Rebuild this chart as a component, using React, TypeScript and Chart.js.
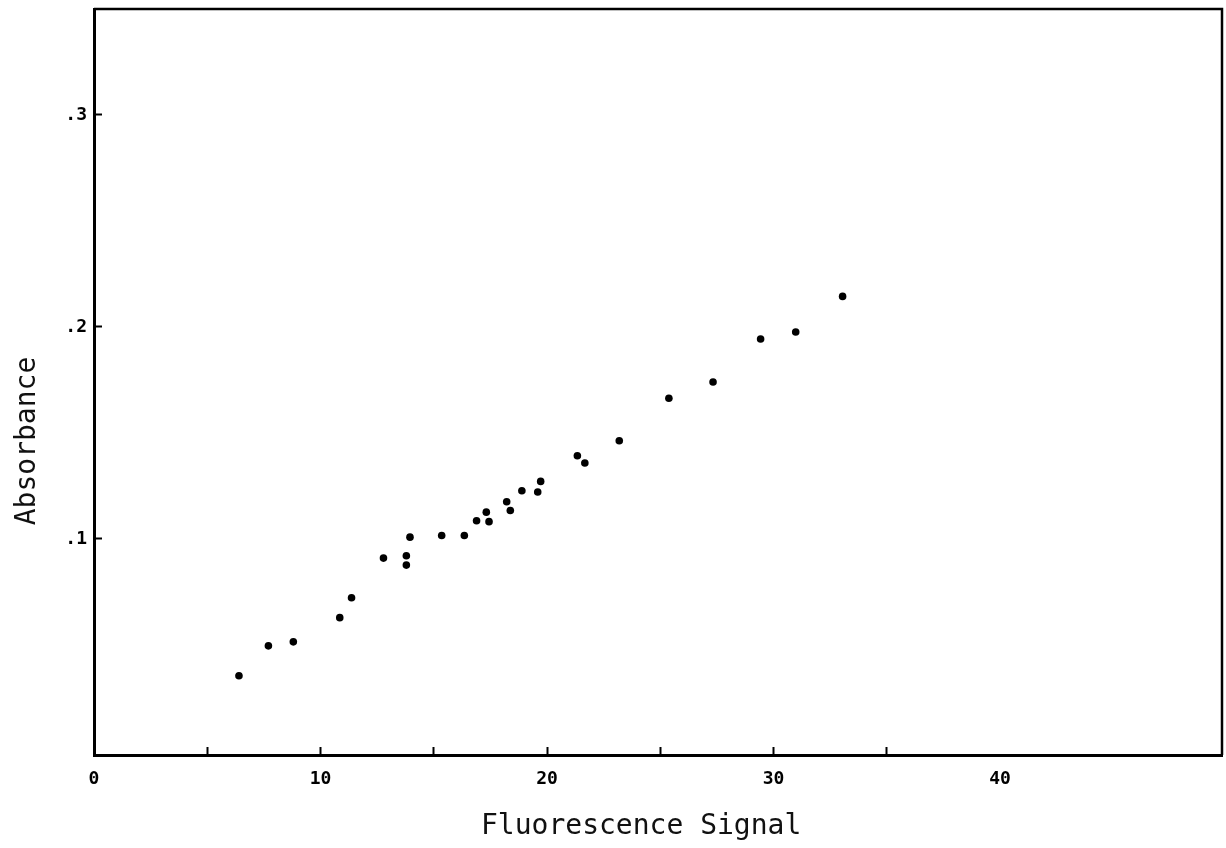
import { useEffect, useRef } from 'react';
import { Chart, registerables } from 'chart.js';

Chart.register(...registerables);

// Data
const fluorescence = [6.4, 7.7, 8.8, 10.85, 11.37, 12.78, 13.79, 13.79, 13.95, 15.35, 16.35, 16.89, 17.32, 17.44, 18.22, 18.38, 18.89, 19.59, 19.72, 21.34, 21.67, 23.19, 25.38, 27.33, 29.43, 30.98, 33.05];
const absorbance = [0.0354, 0.0495, 0.0514, 0.0628, 0.0722, 0.0909, 0.092, 0.0876, 0.1008, 0.1016, 0.1016, 0.1085, 0.1126, 0.1081, 0.1175, 0.1134, 0.1227, 0.1221, 0.1271, 0.1392, 0.1358, 0.1463, 0.1663, 0.174, 0.1943, 0.1976, 0.2144];

const xTickValues = [0, 5, 10, 15, 20, 25, 30, 35, 40];
const xTickLabels = ['0', '', '10', '', '20', '', '30', '', '40'];
const xTicksWithoutMark = [0, 40];
const yTickValues = [0.1, 0.2, 0.3];
const yTickLabels = ['.1', '.2', '.3'];

const xTitle = 'Fluorescence Signal';
const yTitle = 'Absorbance';

const MONO = '"DejaVu Sans Mono", "Liberation Mono", monospace';

const framePlugin = {
  id: 'frame',
  afterDraw(chart: any) {
    const { ctx, chartArea } = chart;
    ctx.save();
    ctx.strokeStyle = '#000';
    ctx.lineWidth = 2.5;
    ctx.beginPath();
    ctx.moveTo(chartArea.left, chartArea.top);
    ctx.lineTo(chartArea.right, chartArea.top);
    ctx.lineTo(chartArea.right, chartArea.bottom);
    ctx.stroke();
    ctx.restore();
  },
};

export default function App() {
  const ref = useRef<HTMLCanvasElement | null>(null);

  useEffect(() => {
    if (!ref.current) return;
    const points = fluorescence.map((x, i) => ({ x, y: absorbance[i] }));
    const chart = new Chart(ref.current, {
      type: 'scatter',
      data: {
        datasets: [
          {
            data: points,
            backgroundColor: '#000',
            borderColor: '#000',
            pointRadius: 3.8,
            pointBorderWidth: 0,
          },
        ],
      },
      options: {
        responsive: false,
        animation: false,
        layout: { padding: { top: 9, right: 3, left: 0, bottom: 0 } },
        plugins: {
          legend: { display: false },
          tooltip: { enabled: false },
        },
        scales: {
          x: {
            type: 'linear',
            min: 0,
            max: 49.8,
            afterBuildTicks: (scale: any) => {
              scale.ticks = xTickValues.map((v) => ({ value: v }));
            },
            afterFit: (scale: any) => {
              scale.height = 93;
              scale.paddingLeft = 0;
              scale.paddingRight = 0;
            },
            border: { display: true, color: '#000', width: 3 },
            grid: {
              drawOnChartArea: false,
              drawTicks: true,
              tickLength: -8,
              tickWidth: 2,
              tickColor: (c: any) =>
                xTicksWithoutMark.includes(c.tick?.value) ? 'rgba(0,0,0,0)' : '#000',
            },
            ticks: {
              autoSkip: false,
              maxRotation: 0,
              padding: 22,
              color: '#000',
              font: { family: MONO, size: 18, weight: 'bold' },
              callback: (value: any) => {
                const i = xTickValues.indexOf(Number(value));
                return i >= 0 ? xTickLabels[i] : '';
              },
            },
            title: {
              display: true,
              text: xTitle + '  ',
              color: '#111',
              font: { family: MONO, size: 28 },
              padding: { top: 0, bottom: 4 },
            },
          },
          y: {
            type: 'linear',
            min: -0.002,
            max: 0.35,
            afterBuildTicks: (scale: any) => {
              scale.ticks = yTickValues.map((v) => ({ value: v }));
            },
            afterFit: (scale: any) => {
              scale.width = 94;
              scale.paddingTop = 0;
              scale.paddingBottom = 0;
            },
            border: { display: true, color: '#000', width: 3 },
            grid: {
              drawOnChartArea: false,
              drawTicks: true,
              tickLength: -8,
              tickWidth: 2,
              tickColor: '#000',
            },
            ticks: {
              autoSkip: false,
              padding: 15,
              color: '#000',
              font: { family: MONO, size: 18, weight: 'bold' },
              callback: (value: any) => {
                const i = yTickValues.indexOf(Number(value));
                return i >= 0 ? yTickLabels[i] : '';
              },
            },
            title: {
              display: true,
              text: yTitle + '       ',
              color: '#111',
              font: { family: MONO, size: 28 },
              padding: { top: 11, bottom: 0 },
            },
          },
        },
      },
      plugins: [framePlugin],
    } as any);
    return () => chart.destroy();
  }, []);

  return (
    <div style={{ position: 'absolute', left: 0, top: 0, width: 1226, height: 848, background: '#fff' }}>
      <canvas ref={ref} width={1226} height={848} style={{ display: 'block' }} />
    </div>
  );
}
